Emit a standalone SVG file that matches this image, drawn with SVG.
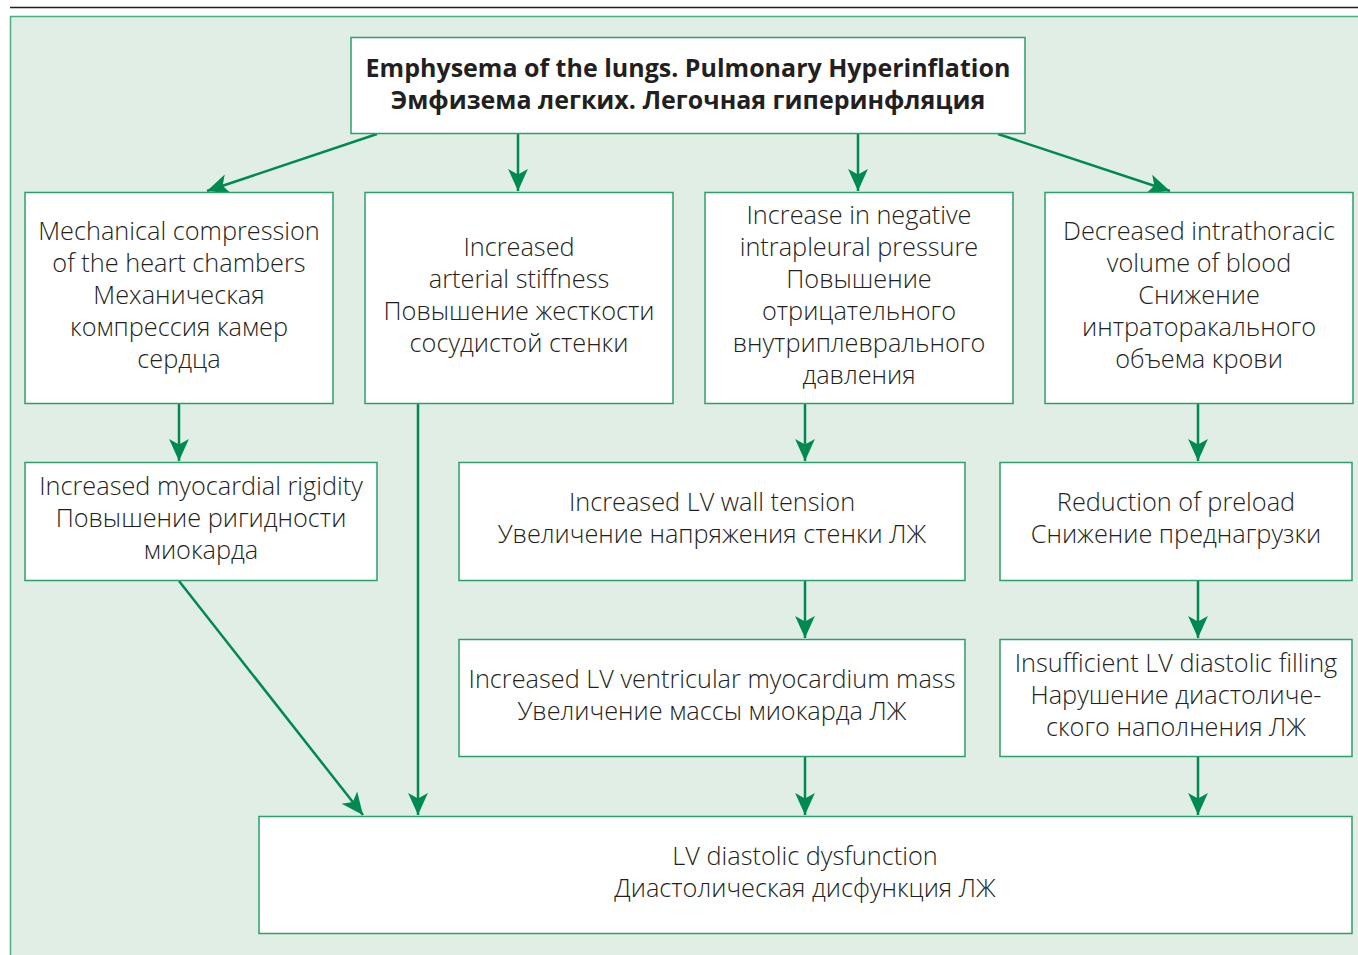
<svg xmlns="http://www.w3.org/2000/svg" width="1358" height="955" viewBox="0 0 1358 955">
<defs>
<marker id="ah" viewBox="0 0 10 10" refX="10" refY="5" markerWidth="24" markerHeight="22" markerUnits="userSpaceOnUse" orient="auto">
<path d="M0,0.5 L10,5 L0,9.5 L2.5,5 Z" fill="#008a50"/>
</marker>
<style>
.box{fill:#ffffff;stroke:#2e9e6a;stroke-width:1.5}
.t{font-family:"Open Sans","Noto Sans","Liberation Sans",sans-serif;font-size:25.3px;fill:#231f20;text-anchor:middle;font-weight:350}
.b{font-family:"Open Sans","Noto Sans","Liberation Sans",sans-serif;font-size:25px;fill:#231f20;text-anchor:middle;font-weight:700}
.c{stroke:#008a50;stroke-width:2.5;fill:none;marker-end:url(#ah)}
</style>
</defs>
<rect x="0" y="0" width="1358" height="955" fill="#ffffff"/>
<line x1="10" y1="7.5" x2="1358" y2="7.5" stroke="#231f20" stroke-width="1.5"/>
<rect x="10.5" y="16.5" width="1360" height="950" fill="#e0eee5" stroke="#4cae7e" stroke-width="1.5"/>

<g id="connectors">
<line class="c" x1="377" y1="134" x2="207" y2="191"/>
<line class="c" x1="518" y1="134" x2="518" y2="191"/>
<line class="c" x1="858" y1="134" x2="858" y2="191"/>
<line class="c" x1="998" y1="134" x2="1170" y2="191"/>
<line class="c" x1="179" y1="404" x2="179" y2="461"/>
<line class="c" x1="418" y1="404" x2="418" y2="815"/>
<line class="c" x1="805" y1="404" x2="805" y2="461"/>
<line class="c" x1="1198" y1="404" x2="1198" y2="461"/>
<line class="c" x1="179" y1="581" x2="363" y2="815"/>
<line class="c" x1="805" y1="581" x2="805" y2="638"/>
<line class="c" x1="1198" y1="581" x2="1198" y2="638"/>
<line class="c" x1="805" y1="757" x2="805" y2="815"/>
<line class="c" x1="1198" y1="757" x2="1198" y2="815"/>
</g>

<g id="top">
<rect class="box" x="351" y="37.5" width="674" height="96"/>
<text class="b" x="688" y="77">Emphysema of the lungs. Pulmonary Hyperinflation</text>
<text class="b" x="688" y="109">Эмфизема легких. Легочная гиперинфляция</text>
</g>

<g id="mech">
<rect class="box" x="25" y="192.5" width="308" height="211"/>
<text class="t" x="179" y="240">Mechanical compression</text>
<text class="t" x="179" y="272">of the heart chambers</text>
<text class="t" x="179" y="304">Механическая</text>
<text class="t" x="179" y="336">компрессия камер</text>
<text class="t" x="179" y="368">сердца</text>
</g>

<g id="stiff">
<rect class="box" x="365" y="192.5" width="308" height="211"/>
<text class="t" x="519" y="256">Increased</text>
<text class="t" x="519" y="288">arterial stiffness</text>
<text class="t" x="519" y="320">Повышение жесткости</text>
<text class="t" x="519" y="352">сосудистой стенки</text>
</g>

<g id="pleural">
<rect class="box" x="705" y="192.5" width="308" height="211"/>
<text class="t" x="859" y="224">Increase in negative</text>
<text class="t" x="859" y="256">intrapleural pressure</text>
<text class="t" x="859" y="288">Повышение</text>
<text class="t" x="859" y="320">отрицательного</text>
<text class="t" x="859" y="352">внутриплеврального</text>
<text class="t" x="859" y="384">давления</text>
</g>

<g id="volume">
<rect class="box" x="1045" y="192.5" width="308" height="211"/>
<text class="t" x="1199" y="240">Decreased intrathoracic</text>
<text class="t" x="1199" y="272">volume of blood</text>
<text class="t" x="1199" y="304">Снижение</text>
<text class="t" x="1199" y="336">интраторакального</text>
<text class="t" x="1199" y="368">объема крови</text>
</g>

<g id="rigidity">
<rect class="box" x="25" y="462.5" width="352" height="118"/>
<text class="t" x="201" y="495">Increased myocardial rigidity</text>
<text class="t" x="201" y="527">Повышение ригидности</text>
<text class="t" x="201" y="559">миокарда</text>
</g>

<g id="tension">
<rect class="box" x="459" y="462.5" width="506" height="118"/>
<text class="t" x="712" y="511">Increased LV wall tension</text>
<text class="t" x="712" y="543">Увеличение напряжения стенки ЛЖ</text>
</g>

<g id="preload">
<rect class="box" x="1000" y="462.5" width="352" height="118"/>
<text class="t" x="1176" y="511">Reduction of preload</text>
<text class="t" x="1176" y="543">Снижение преднагрузки</text>
</g>

<g id="mass">
<rect class="box" x="459" y="639.5" width="506" height="117"/>
<text class="t" x="712" y="688">Increased LV ventricular myocardium mass</text>
<text class="t" x="712" y="720">Увеличение массы миокарда ЛЖ</text>
</g>

<g id="filling">
<rect class="box" x="1000" y="639.5" width="352" height="117"/>
<text class="t" x="1176" y="672">Insufficient LV diastolic filling</text>
<text class="t" x="1176" y="704">Нарушение диастоличе-</text>
<text class="t" x="1176" y="736">ского наполнения ЛЖ</text>
</g>

<g id="dysfunction">
<rect class="box" x="259" y="816.5" width="1093" height="117"/>
<text class="t" x="805" y="865">LV diastolic dysfunction</text>
<text class="t" x="805" y="897">Диастолическая дисфункция ЛЖ</text>
</g>
</svg>
